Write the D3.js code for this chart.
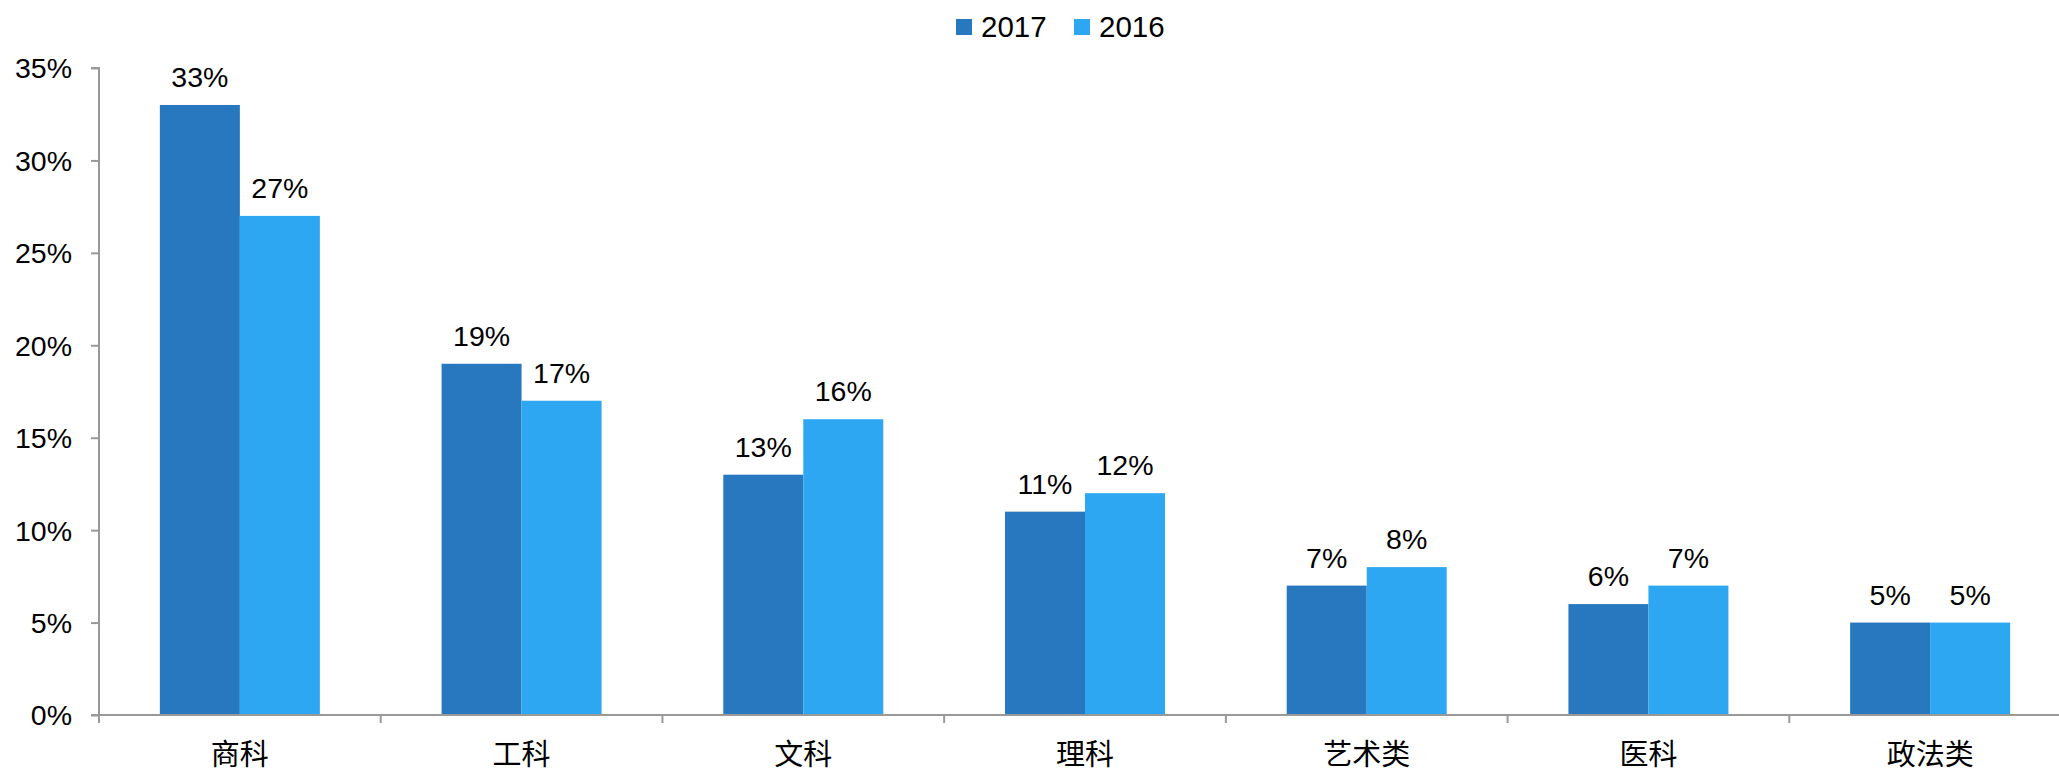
<!DOCTYPE html>
<html><head><meta charset="utf-8">
<script src="https://cdn.jsdelivr.net/npm/d3@7"></script>
<style>html,body{margin:0;padding:0;background:#fff;overflow:hidden}</style>
</head><body>
<svg id="c" width="2059" height="774"></svg>
<script>
const categories = ["商科","工科","文科","理科","艺术类","医科","政法类"];
const series2017 = [33,19,13,11,7,6,5];
const series2016 = [27,17,16,12,8,7,5];
const seriesNames = ["2017","2016"];
const yTicks = [0,5,10,15,20,25,30,35];
const colors = ["#2878C0","#2EA7F2"];

const svg = d3.select("#c");
const font = "'Liberation Sans','Noto Sans CJK SC',Arial,sans-serif";
const x0 = 99, x1 = 2071, yTop = 68, yBot = 715;

const x = d3.scaleBand().domain(categories).range([x0, x1]).paddingInner(0).paddingOuter(0);
const xs = d3.scaleBand().domain(seriesNames).range([0, 160]);
const y = d3.scaleLinear().domain([0,35]).range([yBot, yTop]);

const data = categories.map((c,i)=>({cat:c, vals:[series2017[i], series2016[i]]}));

// bars
const g = svg.append("g");
data.forEach(d=>{
  d.vals.forEach((v,j)=>{
    const bx = x(d.cat) + (x.bandwidth()-160)/2 + xs(seriesNames[j]);
    g.append("rect").attr("x",bx).attr("y",y(v)).attr("width",xs.bandwidth()).attr("height",yBot-y(v)).attr("fill",colors[j]);
    g.append("text").attr("x",bx+xs.bandwidth()/2).attr("y",y(v)-18).attr("text-anchor","middle")
      .attr("font-family",font).attr("font-size",28.5).attr("fill","#000").text(v+"%");
  });
});

// y axis
const yAxis = d3.axisLeft(y).tickValues(yTicks).tickFormat(d=>d+"%").tickSize(8).tickPadding(19);
const ya = svg.append("g").attr("transform",`translate(${x0},0)`).call(yAxis);
ya.select(".domain").attr("stroke","#999").attr("stroke-width",2).attr("d",`M-8,${yTop}H0V${yBot}H-8`);
ya.selectAll(".tick line").attr("stroke","#999").attr("stroke-width",2);
ya.selectAll(".tick text").attr("font-family",font).attr("font-size",28.5).attr("fill","#000").attr("dy","0.35em");

// x axis
const xAxis = d3.axisBottom(x).tickSize(0).tickPadding(0);
const xa = svg.append("g").attr("transform",`translate(0,${yBot})`).call(xAxis);
xa.select(".domain").attr("stroke","#999").attr("stroke-width",2).attr("d",`M${x0},0H${x1}`);
xa.selectAll(".tick text").attr("font-family",font).attr("font-size",29).attr("fill","#000").attr("y",50).attr("dy",0);
// boundary ticks
const bounds = categories.map(c=>x(c)).concat([x1]);
xa.selectAll(".bt").data(bounds).enter().append("line").attr("class","bt")
  .attr("x1",d=>d).attr("x2",d=>d).attr("y1",0).attr("y2",8).attr("stroke","#999").attr("stroke-width",2);

// legend
const leg = svg.append("g");
const legX = [956, 1074];
seriesNames.forEach((s,i)=>{
  leg.append("rect").attr("x",legX[i]).attr("y",19).attr("width",16).attr("height",16).attr("fill",colors[i]);
  leg.append("text").attr("x",legX[i]+25).attr("y",37).attr("font-family",font).attr("font-size",29.5).attr("fill","#000").text(s);
});
</script>
</body></html>
